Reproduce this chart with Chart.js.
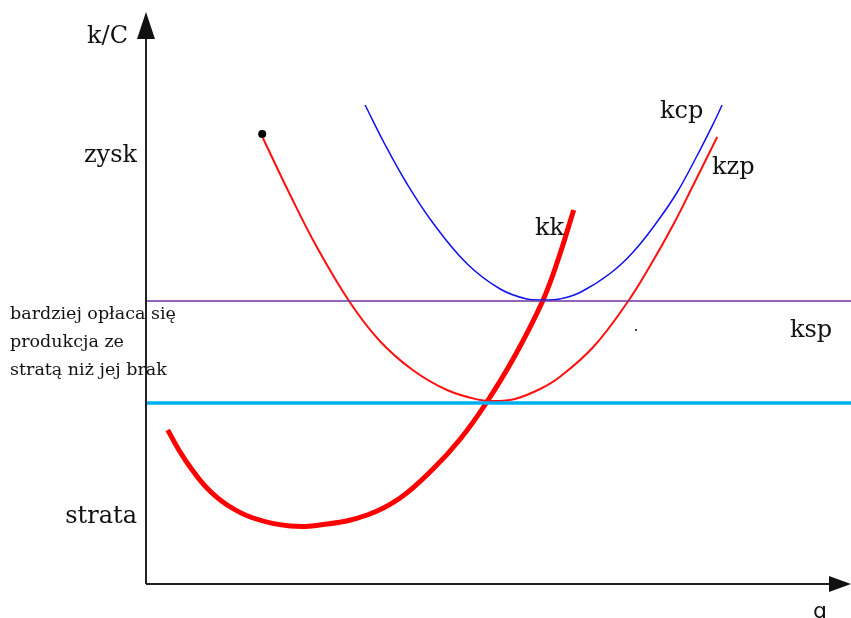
<!DOCTYPE html>
<html>
<head>
<meta charset="utf-8">
<script src="https://cdn.jsdelivr.net/npm/chart.js@4.4.1/dist/chart.umd.min.js"></script>
<style>
  html, body { margin: 0; padding: 0; background: #fff; }
</style>
</head>
<body>
<canvas id="myChart" width="851" height="618"></canvas>
<script>
// krzywe (q: 0..100, k/C: 0..114)
const kkQ  = [3.1, 4.7, 6.3, 8.7, 11.6, 15.3, 20.6, 25.9, 31.6, 36.3, 41.0, 44.9, 48.6, 52.6, 56.6, 58.9, 61.1];
const kkK  = [30.8, 26.8, 23.4, 19.2, 15.8, 13.2, 11.6, 12.0, 13.8, 17.2, 23.0, 29.0, 36.2, 45.4, 56.4, 65.0, 74.8];
const kzpQ = [16.7, 20.6, 24.4, 29.1, 33.4, 38.1, 43.0, 47.7, 49.9, 52.7, 56.3, 59.1, 63.9, 68.7, 72.0, 75.3, 78.4, 81.6];
const kzpK = [89.2, 77.8, 67.4, 56.4, 48.6, 42.8, 38.8, 36.8, 36.6, 37.0, 39.0, 41.4, 47.4, 56.2, 63.6, 71.8, 80.4, 89.4];
const kcpQ = [31.3, 34.1, 37.3, 41.0, 45.9, 50.6, 54.4, 57.0, 59.1, 62.0, 66.3, 69.6, 73.0, 75.9, 78.7, 81.3, 82.3];
const kcpK = [95.8, 88.0, 80.0, 72.2, 64.0, 59.0, 57.0, 56.8, 57.0, 58.3, 62.1, 66.4, 72.4, 78.4, 85.6, 92.8, 95.8];
const kspLevel = 56.6;     // fioletowa linia ksp
const shutLevel = 36.2;    // niebieska linia (minimum kzp)
const lineQ = [0, 101];
const dotQ = [16.6, 70.0];
const dotK = [90.0, 50.8];

const pts = (xs, ys) => xs.map((x, i) => ({x: x, y: ys[i]}));

const labels = [
  {t: 'k/C', x: 128, y: 43, align: 'right'},
  {t: 'zysk', x: 137, y: 162, align: 'right'},
  {t: 'strata', x: 137, y: 523, align: 'right'},
  {t: 'kcp', x: 660, y: 118, align: 'left'},
  {t: 'kzp', x: 712, y: 174, align: 'left'},
  {t: 'kk', x: 535, y: 235, align: 'left'},
  {t: 'ksp', x: 790, y: 337, align: 'left'}
];
const note = ['bardziej opłaca się', 'produkcja ze', 'stratą niż jej brak'];

const axesPlugin = {
  id: 'axes',
  afterDatasetsDraw(chart) {
    const c = chart.ctx;
    const a = chart.chartArea;
    c.save();
    c.strokeStyle = '#222';
    c.fillStyle = '#111';
    c.lineWidth = 2;
    c.beginPath();
    c.moveTo(a.left, a.bottom);
    c.lineTo(a.left, 36);
    c.moveTo(a.left, a.bottom);
    c.lineTo(832, a.bottom);
    c.stroke();
    // strzałki
    c.beginPath();
    c.moveTo(a.left, 12);
    c.lineTo(a.left - 9, 39);
    c.lineTo(a.left + 9, 39);
    c.closePath();
    c.fill();
    c.beginPath();
    c.moveTo(851, a.bottom);
    c.lineTo(829, a.bottom - 8);
    c.lineTo(829, a.bottom + 8);
    c.closePath();
    c.fill();

    c.fillStyle = '#111';
    c.textBaseline = 'alphabetic';
    c.font = '24px "DejaVu Serif"';
    labels.forEach(l => {
      c.textAlign = l.align;
      c.fillText(l.t, l.x, l.y);
    });
    c.font = '17.5px "DejaVu Serif"';
    c.textAlign = 'left';
    note.forEach((s, i) => c.fillText(s, 10, 319 + i * 28));
    c.font = '22px "DejaVu Sans"';
    c.textAlign = 'center';
    c.fillText('q', 820, 618);
    c.restore();
  }
};

new Chart(document.getElementById('myChart'), {
  type: 'line',
  data: {
    datasets: [
      {
        label: 'ksp',
        data: pts(lineQ, [kspLevel, kspLevel]),
        borderColor: '#7030a0', borderWidth: 1.5,
        pointRadius: 0, clip: false
      },
      {
        label: 'min',
        data: pts(lineQ, [shutLevel, shutLevel]),
        borderColor: '#00b0f0', borderWidth: 3.5,
        pointRadius: 0, clip: false
      },
      {
        label: 'kcp',
        data: pts(kcpQ, kcpK),
        borderColor: '#1010f0', borderWidth: 1.5,
        pointRadius: 0, tension: 0.4
      },
      {
        label: 'kzp',
        data: pts(kzpQ, kzpK),
        borderColor: '#ff1010', borderWidth: 2,
        pointRadius: 0, tension: 0.4
      },
      {
        label: 'kk',
        data: pts(kkQ, kkK),
        borderColor: '#ff0000', borderWidth: 5,
        pointRadius: 0, tension: 0.4
      },
      {
        label: 'dots',
        data: pts(dotQ, dotK),
        showLine: false, backgroundColor: '#000', borderWidth: 0,
        pointRadius: [4, 1]
      }
    ]
  },
  options: {
    responsive: false,
    animation: false,
    layout: {padding: {left: 146, right: 5, top: 14, bottom: 34}},
    scales: {
      x: {type: 'linear', min: 0, max: 100, display: false},
      y: {type: 'linear', min: 0, max: 114, display: false}
    },
    plugins: {
      legend: {display: false},
      tooltip: {enabled: false}
    }
  },
  plugins: [axesPlugin]
});
</script>
</body>
</html>
